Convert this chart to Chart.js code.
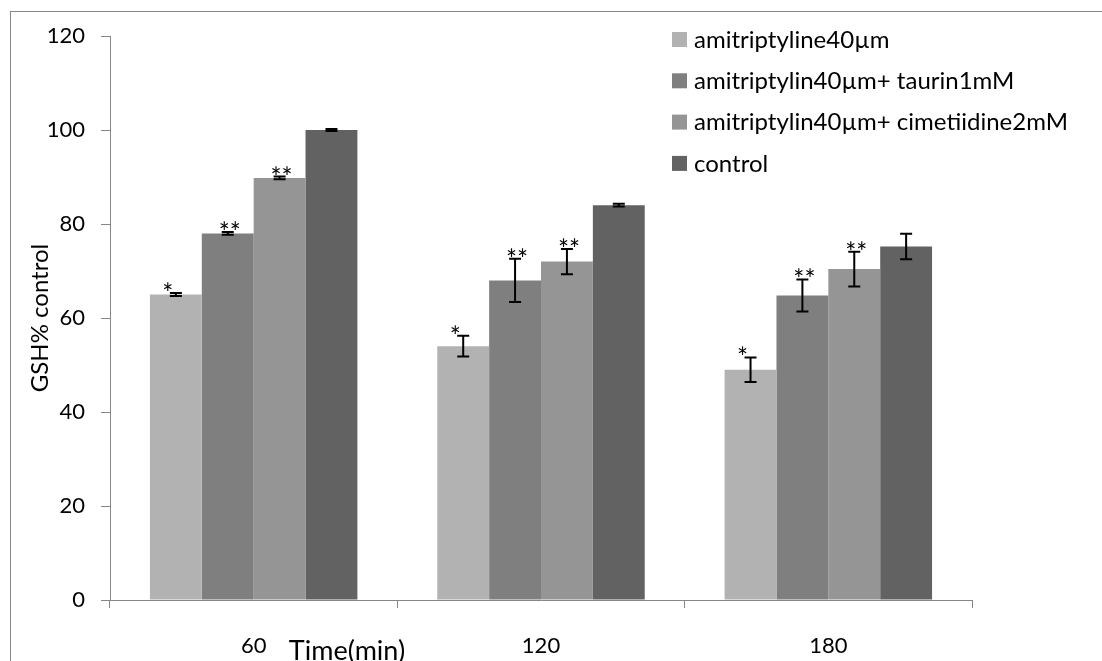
<!DOCTYPE html>
<html>
<head>
<meta charset="utf-8">
<script src="https://cdn.jsdelivr.net/npm/chart.js@4"></script>
<style>
  body { margin: 0; background: #fff; }
  canvas { display: block; }
</style>
</head>
<body>
<canvas id="gshChart" width="1102" height="661"></canvas>
<script>
// values
const categories = ['60', '120', '180'];
const seriesNames = [
    'amitriptyline40µm',
    'amitriptylin40µm+ taurin1mM',
    'amitriptylin40µm+ cimetiidine2mM',
    'control'
];
const amitriptyline = [65, 54, 49];
const taurin = [78, 68, 64.8];
const cimetidine = [89.8, 72, 70.4];
const control = [100, 84, 75.2];

const errAmitriptyline = [0.3, 2.2, 2.6];
const errTaurin = [0.3, 4.6, 3.4];
const errCimetidine = [0.3, 2.7, 3.7];
const errControl = [0.2, 0.3, 2.7];

const marks = ['*', '**', '**', ''];
const yTicks = [0, 20, 40, 60, 80, 100, 120];

const colors = ['#b2b2b2', '#7f7f7f', '#959595', '#626262'];
const axisColor = '#868686';
const FONT = 'Lato, "Liberation Sans", sans-serif';

const seriesValues = [amitriptyline, taurin, cimetidine, control];
const seriesErrors = [errAmitriptyline, errTaurin, errCimetidine, errControl];

// frame round the whole chart
const framePlugin = {
    id: 'frame',
    beforeDraw(chart) {
        const ctx = chart.ctx;
        ctx.save();
        ctx.strokeStyle = axisColor;
        ctx.lineWidth = 1;
        ctx.strokeRect(10.5, 11.5, 1200, 800);
        ctx.restore();
    }
};

// error bars and significance stars
const errorPlugin = {
    id: 'errors',
    afterDatasetsDraw(chart) {
        const ctx = chart.ctx;
        const y = chart.scales.y;
        ctx.save();
        chart.data.datasets.forEach((ds, di) => {
            const meta = chart.getDatasetMeta(di);
            meta.data.forEach((bar, i) => {
                const v = ds.data[i];
                const e = ds.errors[i];
                const top = y.getPixelForValue(v + e);
                const bot = y.getPixelForValue(v - e);
                ctx.strokeStyle = '#000';
                ctx.lineWidth = 2;
                ctx.beginPath();
                ctx.moveTo(bar.x, top);
                ctx.lineTo(bar.x, bot);
                ctx.moveTo(bar.x - 6, top);
                ctx.lineTo(bar.x + 6, top);
                ctx.moveTo(bar.x - 6, bot);
                ctx.lineTo(bar.x + 6, bot);
                ctx.stroke();
                if (ds.mark) {
                    ctx.fillStyle = '#000';
                    ctx.font = '26px ' + FONT;
                    ctx.textAlign = 'center';
                    ctx.textBaseline = 'alphabetic';
                    const dx = di === 0 ? -8 : 2;
                    ctx.fillText(ds.mark, bar.x + dx, top + 10);
                }
            });
        });
        ctx.restore();
    }
};

// legend box inside the plot, and the x title
const legendPlugin = {
    id: 'boxLegend',
    afterDraw(chart) {
        const ctx = chart.ctx;
        ctx.save();
        ctx.font = '24px ' + FONT;
        ctx.textBaseline = 'middle';
        ctx.textAlign = 'left';
        chart.data.datasets.forEach((ds, i) => {
            const cy = 39 + i * 41.3;
            ctx.fillStyle = ds.backgroundColor;
            ctx.fillRect(672, cy - 7, 15, 15);
            ctx.fillStyle = '#000';
            ctx.fillText(ds.label, 694, cy + 1);
        });
        ctx.font = '27px ' + FONT;
        ctx.textAlign = 'center';
        ctx.textBaseline = 'alphabetic';
        ctx.fillText('Time(min)', 347, 660);
        ctx.restore();
    }
};

const datasets = seriesNames.map((name, i) => ({
    label: name,
    data: seriesValues[i],
    errors: seriesErrors[i],
    mark: marks[i],
    backgroundColor: colors[i],
    borderWidth: 0,
    categoryPercentage: 0.722,
    barPercentage: 1.0
}));

new Chart(document.getElementById('gshChart'), {
    type: 'bar',
    data: { labels: categories, datasets: datasets },
    options: {
        responsive: false,
        animation: false,
        layout: { padding: { left: 0, top: 36, right: 130, bottom: 0 } },
        plugins: {
            legend: { display: false },
            tooltip: { enabled: false }
        },
        scales: {
            x: {
                afterFit(scale) { scale.height = 61; },
                grid: {
                    offset: true,
                    drawOnChartArea: false,
                    drawTicks: true,
                    tickLength: 8,
                    color: axisColor
                },
                border: { color: axisColor, width: 1 },
                ticks: {
                    color: '#000',
                    font: { family: FONT, size: 22 },
                    padding: 25
                }
            },
            y: {
                min: 0,
                max: 120,
                afterFit(scale) { scale.width = 110; },
                afterBuildTicks(scale) { scale.ticks = yTicks.map(v => ({ value: v })); },
                grid: {
                    drawOnChartArea: false,
                    drawTicks: true,
                    tickLength: 9,
                    color: axisColor
                },
                border: { color: axisColor, width: 1 },
                ticks: {
                    color: '#000',
                    font: { family: FONT, size: 22 },
                    padding: 16
                },
                title: {
                    display: true,
                    text: 'GSH% control',
                    color: '#000',
                    font: { family: FONT, size: 24 },
                    padding: { top: 26, bottom: 0 }
                }
            }
        }
    },
    plugins: [framePlugin, errorPlugin, legendPlugin]
});
</script>
</body>
</html>
